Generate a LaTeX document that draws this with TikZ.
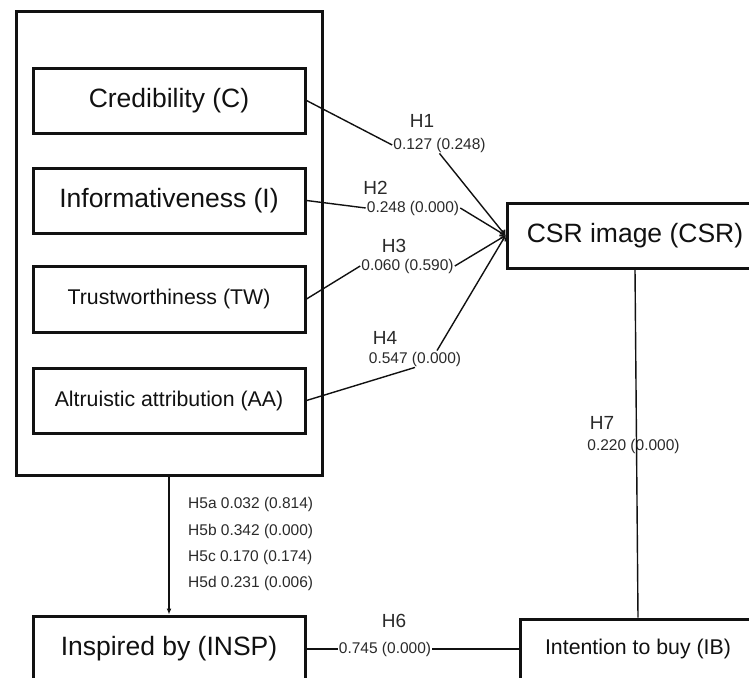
\documentclass[tikz,border=0pt]{standalone}
\usepackage{fontspec}
\setmainfont{Liberation Sans}
\usetikzlibrary{arrows.meta}
\definecolor{pathink}{HTML}{111111}
\definecolor{pathlbl}{HTML}{2A2A2A}
\tikzset{
  cx/.style={draw=pathink, line width=3pt, inner sep=0pt, align=center, text=pathink},
  big/.style={cx, font=\fontsize{26.5pt}{30pt}\selectfont},
  mid/.style={cx, font=\fontsize{21.3pt}{24pt}\selectfont},
  hyp/.style={inner sep=0pt, text=pathlbl, font=\fontsize{19pt}{21pt}\selectfont},
  est/.style={inner sep=1pt, text=pathlbl, font=\fontsize{15.5pt}{17pt}\selectfont},
  ln/.style={draw=pathink, line width=1.4pt},
  arr/.style={ln, -{Straight Barb[length=4pt,width=6pt]}},
  down/.style={ln, -{Latex[length=6pt,width=5pt]}},
}

\begin{document}
\begin{tikzpicture}[x=1pt, y=-1pt]
    \useasboundingbox (0,0) rectangle (749,677);
    \clip (0,0) rectangle (749,677);
    % antecedents
    \node[cx, minimum width=306pt, minimum height=463pt] (grp) at (169,243.5) {};
    \node[big, minimum width=272pt, minimum height=65pt] (C) at (169,100.5) {Credibility (C)};
    \node[big, minimum width=272pt, minimum height=65pt] (I) at (169,200.5) {Informativeness (I)};
    \node[mid, minimum width=272pt, minimum height=66pt] (TW) at (169,299) {Trustworthiness (TW)};
    \node[mid, minimum width=272pt, minimum height=65pt] (AA) at (169,400.5) {Altruistic attribution (AA)};
    % outcomes
    \node[big, minimum width=256pt, minimum height=65pt] (CSR) at (635,235.5) {CSR image (CSR)};
    \node[big, minimum width=272pt, minimum height=66pt] (INSP) at (169,649) {Inspired by (INSP)};
    \node[mid, minimum width=236pt, minimum height=60pt] (IB) at (638,649) {Intention to buy (IB)};
    % path labels
    \node[hyp] (h1) at (422,121) {H1};
    \node[est] (n1) at (439.5,145) {0.127 (0.248)};
    \node[hyp] (h2) at (375.5,188) {H2};
    \node[est] (n2) at (413,208) {0.248 (0.000)};
    \node[hyp] (h3) at (394,246) {H3};
    \node[est] (n3) at (407.5,266) {0.060 (0.590)};
    \node[hyp] (h4) at (385,338) {H4};
    \node[est] (n4) at (415,359) {0.547 (0.000)};
    \node[est, anchor=west] (h5a) at (187,504) {H5a 0.032 (0.814)};
    \node[est, anchor=west] (h5b) at (187,531) {H5b 0.342 (0.000)};
    \node[est, anchor=west] (h5c) at (187,557) {H5c 0.170 (0.174)};
    \node[est, anchor=west] (h5d) at (187,583) {H5d 0.231 (0.006)};
    \node[hyp] (h6) at (394,621) {H6};
    \node[est] (n6) at (385,649) {0.745 (0.000)};
    \node[hyp] (h7) at (602,423) {H7};
    \node[est] (n7) at (633.5,446) {0.220 (0.000)};
    % paths
    \draw[ln] (C.east) -- (n1.west); \draw[arr] (n1.south) -- (CSR.west);
    \draw[ln] (I.east) -- (n2.west); \draw[arr] (n2.east) -- (CSR.west);
    \draw[ln] (TW.east) -- (n3.west); \draw[arr] (n3.east) -- (CSR.west);
    \draw[ln] (AA.east) -- (n4.south); \draw[arr] ([xshift=22pt]n4.north) -- (CSR.west);
    \draw[down] (grp.south) -- (INSP.north);
    \draw[ln] (INSP.east) -- (n6.west); \draw[ln] (n6.east) -- (IB.west);
    \draw[ln] (CSR.south) -- (IB.north);
  \end{tikzpicture}
\end{document}
